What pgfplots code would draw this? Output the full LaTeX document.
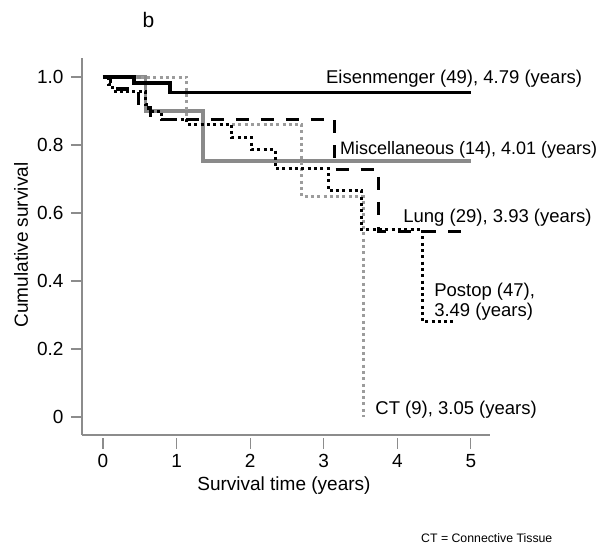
\documentclass[border=0pt]{standalone}
\usepackage{fontspec}
\setmainfont{Liberation Sans}
\usepackage{pgfplots}
\pgfplotsset{compat=1.18}
\definecolor{axgray}{HTML}{8C8C8C}
\definecolor{miscgray}{HTML}{8A8A8A}
\definecolor{ctgray}{HTML}{9C9C9C}
\begin{document}
\begin{tikzpicture}[font=\fontsize{19}{23}\selectfont]
\path[use as bounding box] (0,0) rectangle (600pt,548pt);
\begin{axis}[
  at={(82pt,113pt)}, anchor=south west,
  scale only axis, width=408pt, height=377pt,
  xmin=-0.285, xmax=5.26, ymin=-0.053, ymax=1.056,
  axis x line*=bottom, axis y line*=left,
  axis line style={axgray, line width=1.2pt, -},
  xtick={0,1,2,3,4,5}, ytick={0,0.2,0.4,0.6,0.8,1.0},
  yticklabels={0,0.2,0.4,0.6,0.8,1.0},
  tick align=outside,
  major tick length=11pt,
  xtick style={axgray, line width=1.2pt, yshift=-3pt},
  ytick style={axgray, line width=1.2pt},
  /pgf/number format/assume math mode=true,
  xticklabel style={yshift=-5pt},
  yticklabel style={xshift=-4pt},
  xlabel={Survival time (years)},
  ylabel={Cumulative survival},
  every axis x label/.style={at={(axis description cs:0.495,-0.148)}, anchor=base},
  every axis y label/.style={at={(axis description cs:-0.1495,0.504)}, anchor=center, rotate=90},
  clip=false,
]
% Miscellaneous (gray solid)
\addplot[const plot, miscgray, line width=3.3pt] coordinates {(0,1) (0.58,0.90) (1.36,0.753) (5,0.753)};
% CT (gray dotted)
\addplot[const plot, ctgray, line width=3pt, dash pattern=on 3pt off 3.3pt] coordinates {(0,1) (1.14,0.861) (2.70,0.648) (3.54,0.0) (3.54,0.0)};
% Eisenmenger (black solid)
\addplot[const plot, black, line width=3.3pt] coordinates {(0,1) (0.42,0.982) (0.91,0.955) (5,0.955)};
% Lung (black dashed)
\addplot[const plot, black, line width=3.3pt, dash pattern=on 13pt off 12pt] coordinates {(0,1) (0.1,0.965) (0.48,0.91) (0.65,0.876) (3.15,0.728) (3.74,0.545) (5,0.545)};
% Postop (black dotted)
\addplot[const plot, black, line width=3pt, dash pattern=on 3pt off 3.3pt] coordinates {(0,1) (0.08,0.979) (0.13,0.957) (0.58,0.92) (0.62,0.90) (0.80,0.876) (1.14,0.861) (1.75,0.822) (2.02,0.787) (2.34,0.731) (3.06,0.666) (3.51,0.552) (4.34,0.28) (4.8,0.28)};
\node[anchor=base west, inner sep=0pt, font=\fontsize{18.5}{22}\selectfont] at (axis cs:3.03,0.982) {Eisenmenger (49), 4.79 (years)};
\node[anchor=base west, inner sep=0pt, font=\fontsize{18}{22}\selectfont] at (axis cs:3.22,0.771) {Miscellaneous (14), 4.01 (years)};
\node[anchor=base west, inner sep=0pt, font=\fontsize{18.5}{22}\selectfont] at (axis cs:4.08,0.571) {Lung (29), 3.93 (years)};
\node[anchor=base west, inner sep=0pt, font=\fontsize{18.5}{22}\selectfont] at (axis cs:4.50,0.354) {Postop (47),};
\node[anchor=base west, inner sep=0pt, font=\fontsize{18.5}{22}\selectfont] at (axis cs:4.50,0.297) {3.49 (years)};
\node[anchor=base west, inner sep=0pt, font=\fontsize{18.5}{22}\selectfont] at (axis cs:3.70,0.006) {CT (9), 3.05 (years)};
\end{axis}
\node[anchor=base, inner sep=0pt, font=\fontsize{21}{25}\selectfont] at (148.5pt,520pt) {b};
\node[anchor=base west, inner sep=0pt, font=\fontsize{12.3}{15}\selectfont] at (421pt,5pt) {CT = Connective Tissue};
\end{tikzpicture}
\end{document}
